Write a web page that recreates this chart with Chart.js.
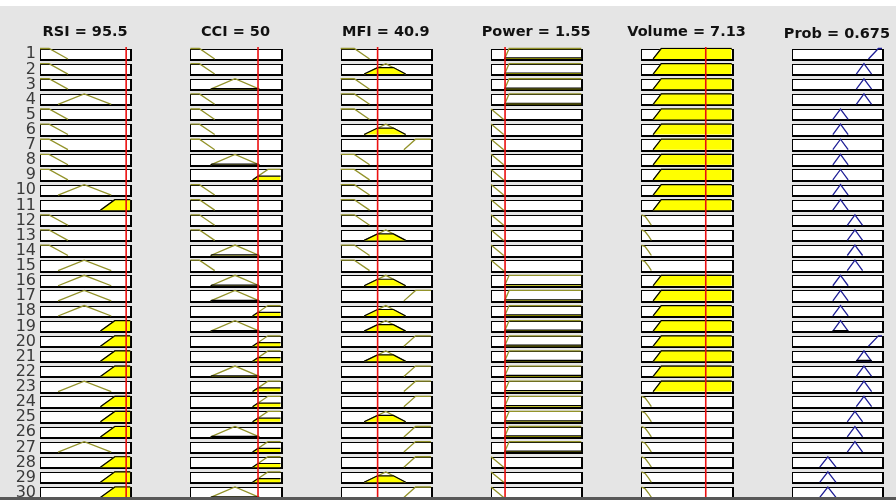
<!DOCTYPE html>
<html>
<head>
<meta charset="utf-8">
<script src="https://cdn.jsdelivr.net/npm/chart.js@4.4.1/dist/chart.umd.min.js"></script>
<style>
  html, body { margin: 0; padding: 0; background: #e5e5e5; }
  canvas { display: block; }
</style>
</head>
<body>
<canvas id="rule-chart" width="896" height="500"></canvas>
<script>
const varNames = ['RSI', 'CCI', 'MFI', 'Power', 'Volume', 'Prob'];
const varRanges = [[0, 100], [-100, 100], [0, 100], [0, 10], [0, 10], [0, 1]];
const inputValues = [95.5, 50, 40.9, 1.55, 7.13];
const outputValue = 0.675;

// membership functions as [x, mu] vertices, in the variable's own units
const rsiMFs = { L: [[0, 1], [10, 1], [31, 0]], M: [[20, 0], [49, 1], [79, 0]], H: [[67, 0], [83, 1], [100, 1]] };
const cciMFs = { L: [[-100, 1], [-80, 1], [-46, 0]], M: [[-55, 0], [-1, 1], [53, 0]], H: [[38, 0], [72, 1], [100, 1]] };
const mfiMFs = { L: [[0, 1], [15, 1], [32, 0]], M: [[26, 0], [50, 1], [72, 0]], H: [[70, 0], [83, 1], [100, 1]] };
const powerMFs = { L: [[0, 1], [0.1, 1], [1.4, 0]], H: [[1.5, 0], [2.0, 1], [10, 1]] };
const volumeMFs = { L: [[0, 1], [0.4, 0.85], [0.8, 0.4], [1.1, 0]], H: [[1.3, 0], [2.2, 1], [10, 1]] };
const probMFs = {
    P1: [[0.31, 0], [0.40, 1], [0.49, 0]],
    P2: [[0.455, 0], [0.54, 1], [0.625, 0]],
    P3: [[0.615, 0], [0.70, 1], [0.785, 0]],
    P4: [[0.715, 0], [0.80, 1], [0.885, 0]],
    P5: [[0.85, 0], [0.96, 1], [1, 1]]
};

// rule table, one entry per rule (rows 1..30)
const rsiRules = 'L L L M L L L L L M H L L L M M M M H H H H M H H H M H H H'.split(' ');
const cciRules = 'L L M L L L L M H L L L L M L M M H M H H M H H H M H H H M'.split(' ');
const mfiRules = 'L M L L L M H L L L L L M L L M H M M H M H H H M H H H M H'.split(' ');
const powerRules = 'H H H H L L L L L L L L L L L H H H H H H H H H H H H L L L'.split(' ');
const volumeRules = 'H H H H H H H H H H H L L L L H H H H H H H H L L L L L L L'.split(' ');
const probRules = 'P5 P4 P4 P4 P2 P2 P2 P2 P2 P2 P2 P3 P3 P3 P3 P2 P2 P2 P2 P5 P4 P4 P4 P4 P3 P3 P3 P1 P1 P1'.split(' ');

const columnMFs = [rsiMFs, cciMFs, mfiMFs, powerMFs, volumeMFs, probMFs];
const columnRules = [rsiRules, cciRules, mfiRules, powerRules, volumeRules, probRules];

const COL_W = 0.6;    // box width in column units
const BOX_H = 0.69;   // box height in row units
const Y_MAX = 29.86;

const mfColor = '#93932a';
const outColor = '#1e1e96';

function colX(c, v) {
    const [lo, hi] = varRanges[c];
    return c + COL_W * (v - lo) / (hi - lo);
}

function evalMF(mf, v) {
    if (v <= mf[0][0]) return mf[0][1];
    for (let i = 1; i < mf.length; i++) {
        const [x0, m0] = mf[i - 1];
        const [x1, m1] = mf[i];
        if (v <= x1) return m0 + (m1 - m0) * (v - x0) / (x1 - x0);
    }
    return mf[mf.length - 1][1];
}

function clipMF(mf, d) {
    const out = [];
    for (let i = 0; i < mf.length; i++) {
        const [x, m] = mf[i];
        if (i > 0) {
            const [px, pm] = mf[i - 1];
            if ((pm - d) * (m - d) < 0) {
                const t = (d - pm) / (m - pm);
                out.push([px + t * (x - px), d]);
            }
        }
        out.push([x, Math.min(m, d)]);
    }
    return out;
}

function toPoints(c, r, pts) {
    return pts.map(([v, mu]) => ({ x: colX(c, v), y: r + BOX_H * (1 - mu) }));
}

const datasets = [];
const nRules = rsiRules.length;

for (let r = 0; r < nRules; r++) {
    let strength = 1;
    for (let c = 0; c < 6; c++) {
        const mf = columnMFs[c][columnRules[c][r]];
        let degree;
        if (c < 5) {
            degree = evalMF(mf, inputValues[c]);
            strength = Math.min(strength, degree);
        } else {
            degree = strength;
        }
        datasets.push({
            data: toPoints(c, r, mf),
            borderColor: c < 5 ? mfColor : outColor,
            borderWidth: 1.3,
            order: 2
        });
        if (degree > 0.001) {
            datasets.push({
                data: toPoints(c, r, clipMF(mf, degree)),
                borderColor: '#000',
                borderWidth: 1.2,
                backgroundColor: c < 5 ? '#ffff00' : outColor,
                fill: { value: r + BOX_H },
                order: 1
            });
        }
    }
}

// red input markers
inputValues.forEach((v, c) => {
    datasets.push({
        data: [{ x: colX(c, v), y: -0.1 }, { x: colX(c, v), y: Y_MAX }],
        borderColor: '#ec1010',
        borderWidth: 1.6,
        order: 0
    });
});

const frame = {
    id: 'ruleFrame',
    beforeDraw(chart) {
        const ctx = chart.ctx;
        ctx.save();
        ctx.fillStyle = '#e5e5e5';
        ctx.fillRect(0, 0, chart.width, chart.height);
        ctx.fillStyle = '#ffffff';
        ctx.fillRect(0, 0, chart.width, 6);
        ctx.restore();
    },
    beforeDatasetsDraw(chart) {
        const ctx = chart.ctx;
        const xs = chart.scales.x;
        const ys = chart.scales.y;
        ctx.save();
        for (let c = 0; c < 6; c++) {
            const x0 = Math.round(xs.getPixelForValue(c));
            const x1 = Math.round(xs.getPixelForValue(c + COL_W));
            for (let r = 0; r < nRules; r++) {
                const y0 = Math.round(ys.getPixelForValue(r));
                const y1 = Math.round(ys.getPixelForValue(r + BOX_H));
                ctx.fillStyle = '#ffffff';
                ctx.fillRect(x0, y0, x1 - x0, y1 - y0);
                ctx.fillStyle = '#000000';
                ctx.fillRect(x0, y0, x1 - x0, 1);
                ctx.fillRect(x0, y0, 1, y1 - y0);
                ctx.fillRect(x0, y1, x1 - x0 + 2, 2);
                ctx.fillRect(x1, y0, 2, y1 - y0 + 2);
            }
        }

        // column titles
        ctx.font = 'bold 14.5px "DejaVu Sans"';
        ctx.fillStyle = '#111';
        ctx.textAlign = 'center';
        ctx.textBaseline = 'middle';
        const titleVals = inputValues.concat([outputValue]);
        for (let c = 0; c < 6; c++) {
            const cx = xs.getPixelForValue(c + COL_W / 2);
            ctx.fillText(varNames[c] + ' = ' + titleVals[c], cx, c === 5 ? 34.5 : 32);
        }

        // rule numbers
        ctx.font = '16px "DejaVu Sans"';
        ctx.fillStyle = '#3a3a3a';
        ctx.textAlign = 'right';
        for (let r = 0; r < nRules; r++) {
            const cy = ys.getPixelForValue(r + BOX_H / 2);
            ctx.fillText(String(r + 1), 36, cy + 0.5);
        }
        ctx.restore();
    },
    afterDraw(chart) {
        const ctx = chart.ctx;
        ctx.save();
        ctx.fillStyle = '#585858';
        ctx.fillRect(0, 497, chart.width, 3);
        ctx.restore();
    }
};

new Chart(document.getElementById('rule-chart'), {
    type: 'scatter',
    data: { datasets: datasets },
    options: {
        responsive: false,
        animation: false,
        showLine: true,
        elements: {
            point: { radius: 0, hoverRadius: 0 },
            line: { tension: 0, borderCapStyle: 'butt' }
        },
        layout: { padding: { left: 40, right: 14, top: 47, bottom: 0 } },
        scales: {
            x: { type: 'linear', min: 0, max: 5.6, display: false },
            y: { type: 'linear', min: -0.1, max: Y_MAX, reverse: true, display: false }
        },
        plugins: {
            legend: { display: false },
            tooltip: { enabled: false }
        }
    },
    plugins: [frame]
});
</script>
</body>
</html>
